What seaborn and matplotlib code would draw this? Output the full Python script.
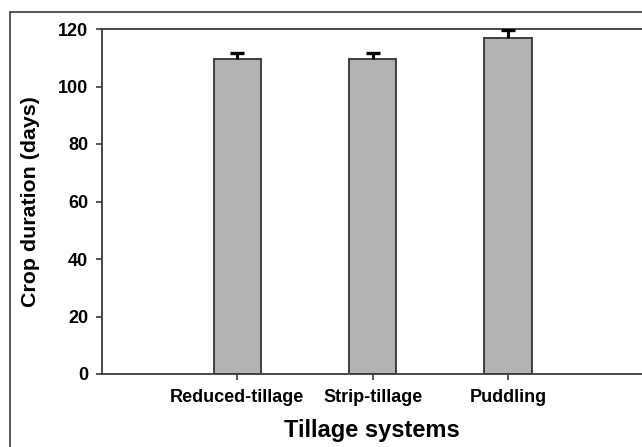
import matplotlib
matplotlib.use("Agg")
import matplotlib.pyplot as plt
import seaborn as sns
import pandas as pd
from matplotlib.lines import Line2D

categories = ["Reduced-tillage", "Strip-tillage", "Puddling"]
durations = [109.5, 109.5, 116.9]
errors = [2.3, 2.3, 2.8]
y_ticks = [0, 20, 40, 60, 80, 100, 120]

sns.set_style("white")
plt.rcParams['font.family'] = ['Liberation Sans', 'DejaVu Sans']
plt.rcParams['font.weight'] = 'bold'
plt.rcParams['text.color'] = 'black'
plt.rcParams['axes.labelcolor'] = 'black'
plt.rcParams['xtick.labelcolor'] = 'black'
plt.rcParams['ytick.labelcolor'] = 'black'

df = pd.DataFrame({"system": categories, "days": durations})

fig = plt.figure(figsize=(6.42, 4.47), dpi=100)
ax = fig.add_axes([102/642, 73/447, 1 - 102/642, 345/447])

sns.barplot(data=df, x="system", y="days", order=categories, color="#b3b3b3",
            edgecolor="#333333", linewidth=1.3, width=0.35, saturation=1,
            errorbar=None, ax=ax)
xpos = list(range(len(categories)))
eb = ax.errorbar(xpos, durations, yerr=[[0]*len(errors), errors], fmt="none",
                 ecolor="black", elinewidth=2.2, capsize=5, capthick=2.4, zorder=3)
eb[1][0].set_visible(False)

ax.set_xlim(-1.0, 2.99)
ax.set_ylim(0, 120)
ax.set_yticks(y_ticks)
ax.set_yticklabels([str(v) for v in y_ticks])

for s in ["left", "top", "bottom"]:
    ax.spines[s].set_visible(True)
    ax.spines[s].set_color("#3a3a3a")
    ax.spines[s].set_linewidth(1.3)
ax.spines["right"].set_visible(False)

ax.tick_params(axis="y", direction="out", length=4, width=1.2, color="#3a3a3a",
               labelsize=13, pad=6, left=True, labelcolor="black")
ax.tick_params(axis="x", direction="out", length=4, width=1.2, color="#3a3a3a",
               labelsize=13, pad=7, bottom=True, labelcolor="black")
for lab in ax.get_xticklabels() + ax.get_yticklabels():
    lab.set_fontweight("bold")

ax.set_xlabel("Tillage systems", fontsize=17, fontweight="bold", labelpad=9, color="black")
ax.set_ylabel("Crop duration (days)", fontsize=15.4, fontweight="bold", labelpad=13, color="black")

# outer frame (cropped figure border)
fig.add_artist(Line2D([10/642, 10/642], [0, 1 - 12/447], transform=fig.transFigure,
                      color="#3a3a3a", linewidth=1.2))
fig.add_artist(Line2D([10/642, 1], [1 - 12/447, 1 - 12/447], transform=fig.transFigure,
                      color="#3a3a3a", linewidth=1.2))

fig.savefig("out.png", dpi=100)
